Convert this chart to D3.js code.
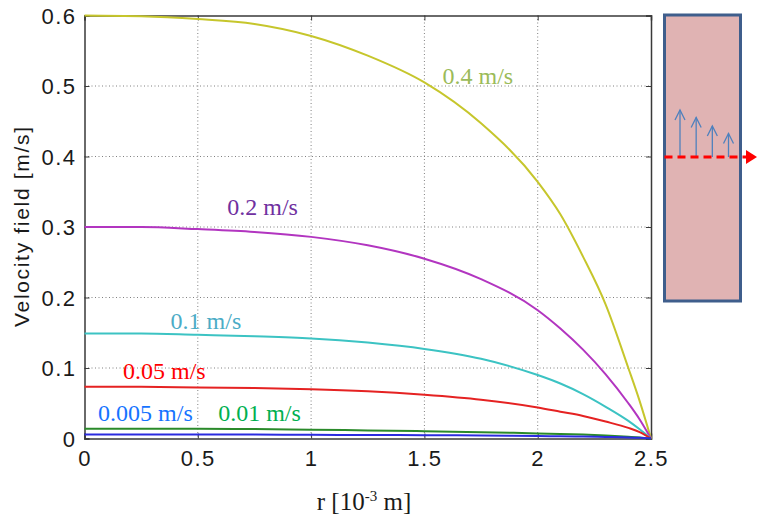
<!DOCTYPE html>
<html>
<head>
<meta charset="utf-8">
<script src="https://cdn.jsdelivr.net/npm/d3@7"></script>
<style>
  body { margin: 0; background: #fff; }
  svg { display: block; }
</style>
</head>
<body>
<svg width="758" height="519"></svg>
<script>
// radial positions [10^-3 m]
const radius = [0, 0.25, 0.5, 0.75, 1, 1.25, 1.5, 1.75, 2, 2.1, 2.2, 2.3, 2.4, 2.45, 2.5];

// velocity profiles [m/s], one per mean inlet velocity
const v04 = [0.6, 0.599, 0.595, 0.588, 0.571, 0.543, 0.505, 0.447, 0.364, 0.318, 0.258, 0.19, 0.1, 0.053, 0];
const v02 = [0.3, 0.3, 0.297, 0.293, 0.286, 0.274, 0.255, 0.226, 0.182, 0.156, 0.126, 0.091, 0.05, 0.027, 0];
const v01 = [0.149, 0.149, 0.147, 0.145, 0.142, 0.136, 0.127, 0.113, 0.09, 0.078, 0.063, 0.045, 0.025, 0.013, 0];
const v005 = [0.0735, 0.0733, 0.0725, 0.0715, 0.07, 0.067, 0.062, 0.055, 0.044, 0.038, 0.032, 0.024, 0.015, 0.009, 0];
const v001 = [0.0138, 0.0138, 0.0138, 0.0133, 0.0125, 0.0115, 0.0104, 0.009, 0.0072, 0.0065, 0.0055, 0.0042, 0.0025, 0.0015, 0];
const v0005 = [0.0058, 0.0058, 0.0057, 0.0055, 0.0052, 0.005, 0.0047, 0.0042, 0.0035, 0.0032, 0.0028, 0.0022, 0.0015, 0.0009, 0];

const seriesNames = ['0.4 m/s', '0.2 m/s', '0.1 m/s', '0.05 m/s', '0.01 m/s', '0.005 m/s'];
const seriesValues = [v04, v02, v01, v005, v001, v0005];

const xTicks = [0, 0.5, 1, 1.5, 2, 2.5];
const yTicks = [0, 0.1, 0.2, 0.3, 0.4, 0.5, 0.6];

// arrow heights in the inset sketch (relative)
const insetArrows = [1, 0.84, 0.66, 0.5];

const lineColors = ['#c6c62c', '#b235c0', '#3cc3c3', '#e52222', '#2a8a2a', '#2b2be0'];
const labelColors = ['#9bbb59', '#7030a0', '#4bacc6', '#ff0000', '#00b050', '#1673ff'];
// label anchors in data units [r, v]
const labelAt = [[1.58, 0.503], [0.63, 0.317], [0.38, 0.155], [0.17, 0.084], [0.59, 0.025], [0.06, 0.025]];

const svg = d3.select('svg');
const m = { left: 84.5, right: 651, top: 15.5, bottom: 438.5 };

const x = d3.scaleLinear().domain([0, 2.5]).range([m.left, m.right]);
const y = d3.scaleLinear().domain([0, 0.6]).range([m.bottom, m.top]);

// grid
const grid = svg.append('g').attr('stroke', '#808080').attr('stroke-width', 1).attr('stroke-dasharray', '1,2.5');
grid.selectAll('.gx').data(xTicks.slice(1, -1)).join('line')
  .attr('x1', d => x(d)).attr('x2', d => x(d))
  .attr('y1', m.top).attr('y2', m.bottom);
grid.selectAll('.gy').data(yTicks.slice(1, -1)).join('line')
  .attr('x1', m.left).attr('x2', m.right)
  .attr('y1', d => y(d)).attr('y2', d => y(d));

// axes (inward ticks, MATLAB style)
const axL = svg.append('g').attr('transform', `translate(${m.left},0)`)
  .call(d3.axisLeft(y).tickValues(yTicks).tickSize(-5).tickPadding(8).tickFormat(d3.format('~g')));
const axR = svg.append('g').attr('transform', `translate(${m.right},0)`)
  .call(d3.axisRight(y).tickValues(yTicks).tickSize(-5).tickFormat(''));
const axB = svg.append('g').attr('transform', `translate(0,${m.bottom})`)
  .call(d3.axisBottom(x).tickValues(xTicks).tickSize(-5).tickPadding(12).tickFormat(d3.format('~g')));
const axT = svg.append('g').attr('transform', `translate(0,${m.top})`)
  .call(d3.axisTop(x).tickValues(xTicks).tickSize(-5).tickFormat(''));

[axL, axR, axB, axT].forEach((a) => {
  a.select('.domain').attr('stroke', '#3a3a3a').attr('stroke-width', 1.5);
  a.selectAll('.tick line').attr('stroke', '#3a3a3a');
  a.selectAll('text')
    .attr('fill', '#1a1a1a')
    .style('font-family', '"Liberation Sans", Arial, sans-serif')
    .style('font-size', '22px')
    .style('letter-spacing', '1.5px');
});
axL.selectAll('text').attr('dy', '0.36em');

// curves
const line = d3.line()
  .x((d, i) => x(radius[i]))
  .y(d => y(d))
  .curve(d3.curveMonotoneX);

svg.append('g').selectAll('path')
  .data(seriesValues).join('path')
  .attr('d', d => line(d))
  .attr('fill', 'none')
  .attr('stroke', (d, i) => lineColors[i])
  .attr('stroke-width', 2);

// curve labels
svg.append('g').selectAll('text')
  .data(seriesNames).join('text')
  .attr('x', (d, i) => x(labelAt[i][0]))
  .attr('y', (d, i) => y(labelAt[i][1]))
  .attr('fill', (d, i) => labelColors[i])
  .style('font-family', '"Liberation Serif", "Times New Roman", serif')
  .style('font-size', '24px')
  .text(d => d);

// axis titles
svg.append('text')
  .attr('transform', `translate(29,${(127 + 327) / 2}) rotate(-90)`)
  .attr('text-anchor', 'middle')
  .attr('textLength', 200)
  .attr('lengthAdjust', 'spacing')
  .style('font-family', '"Liberation Sans", Arial, sans-serif')
  .style('font-size', '21px')
  .attr('fill', '#1a1a1a')
  .text('Velocity field [m/s]');

const xt = svg.append('text')
  .attr('x', 364).attr('y', 510)
  .attr('text-anchor', 'middle')
  .style('font-family', '"Liberation Serif", "Times New Roman", serif')
  .style('font-size', '25px')
  .attr('fill', '#1a1a1a');
xt.append('tspan').text('r [10');
xt.append('tspan').attr('dy', -9).style('font-size', '15px').text('-3');
xt.append('tspan').attr('dy', 9).text(' m]');

// inset sketch of the channel
const ins = { x0: 664.5, x1: 740.5, y0: 15, y1: 301, mid: 157 };
const inset = svg.append('g');
inset.append('rect')
  .attr('x', ins.x0).attr('y', ins.y0)
  .attr('width', ins.x1 - ins.x0).attr('height', ins.y1 - ins.y0)
  .attr('fill', '#e0b3b3')
  .attr('stroke', '#3f5e8c')
  .attr('stroke-width', 3);

const ax = d3.scaleLinear().domain([0, insetArrows.length - 1]).range([680, 728.5]);
const ah = d3.scaleLinear().domain([0, 1]).range([0, ins.mid - 110]);
const arrows = inset.append('g').attr('stroke', '#4f81bd').attr('stroke-width', 1.3).attr('fill', 'none');
insetArrows.forEach((a, i) => {
  const px = ax(i);
  const top = ins.mid - ah(a);
  arrows.append('line').attr('x1', px).attr('x2', px).attr('y1', ins.mid).attr('y2', top);
  arrows.append('path').attr('d', `M${px - 5},${top + 10}L${px},${top}L${px + 5},${top + 10}`);
});

inset.append('line')
  .attr('x1', ins.x0).attr('x2', 746)
  .attr('y1', ins.mid).attr('y2', ins.mid)
  .attr('stroke', '#ff0000')
  .attr('stroke-width', 3)
  .attr('stroke-dasharray', '8,5');
inset.append('path')
  .attr('d', `M746,${ins.mid - 7}L757,${ins.mid}L746,${ins.mid + 7}Z`)
  .attr('fill', '#ff0000');
</script>
</body>
</html>
